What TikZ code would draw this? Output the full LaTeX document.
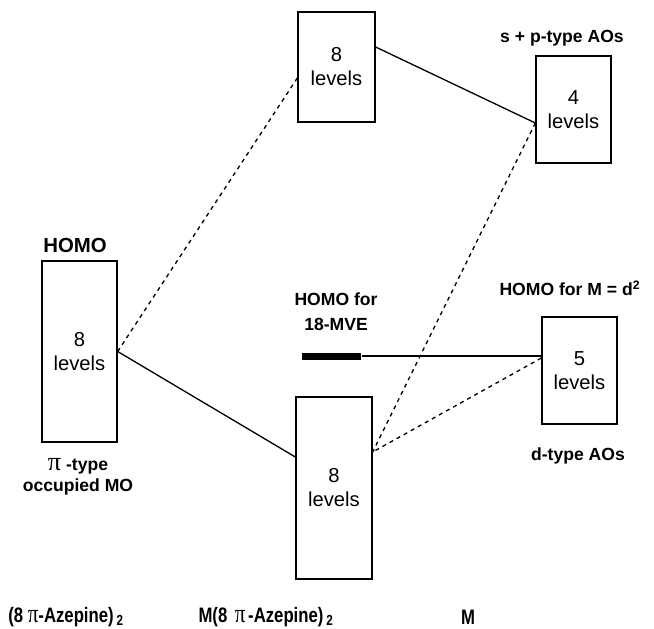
\documentclass[tikz,border=0pt]{standalone}
\usepackage{fontspec}
\setmainfont{Liberation Sans}
\newfontfamily\pifont{Liberation Serif}
\newcommand{\pisym}{{\pifont\normalfont\pifont\fontsize{15}{14}\selectfont π}}
\begin{document}
\begin{tikzpicture}[x=0.02cm, y=-0.02cm, line width=0.75pt,
  level/.style={draw, rectangle, minimum width=1.5cm, align=center, inner sep=0pt, font=\fontsize{11.5}{13.7}\selectfont},
  tag/.style={align=center, inner sep=0pt, font=\fontsize{10}{14}\selectfont\bfseries},
  bigtag/.style={inner sep=0pt, font=\fontsize{11.9}{14}\selectfont\bfseries},
  dots/.style={dash pattern=on 2.3pt off 2.3pt}]
\useasboundingbox (0,0) rectangle (654,629);
% level boxes
\node[level, minimum height=3.62cm] (homo) at (79.5,351.5) {8\\levels};
\node[level, minimum width=1.54cm, minimum height=2.2cm] (top) at (336.5,67) {8\\levels};
\node[level, minimum width=1.52cm, minimum height=3.64cm] (mid) at (334,488) {8\\levels};
\node[level, minimum height=2.14cm] (sp) at (573.5,109.5) {4\\levels};
\node[level, minimum height=2.14cm] (d) at (579.5,370.5) {5\\levels};
\node[fill=black, inner sep=0pt, minimum width=1.18cm, minimum height=0.14cm] (bar) at (331.5,356) {};
% labels
\node[font=\fontsize{11.6}{14}\selectfont\bfseries, inner sep=0pt] (homolabel) at (75,245.5) {HOMO};
\node[tag, font=\fontsize{10}{12}\selectfont\bfseries] (pitype) at (78,477) {\pisym\ -type\\occupied MO};
\node[tag] (splabel) at (562,38) {s + p-type AOs};
\node[tag] (dhomo) at (570,288) {HOMO for M = d$^{\mathbf{2}}$};
\node[tag] (mve) at (336,312) {HOMO for\\18-MVE};
\node[tag] (dlabel) at (578,456) {d-type AOs};
\node[bigtag] (ligand) at (66,617) {\scalebox{0.8}[1]{(8 \pisym-Azepine)\,$_{\mathbf{2}}$}};
\node[bigtag] (complex) at (266,617) {\scalebox{0.8}[1]{M(8 \,\pisym\,-Azepine)\,$_{\mathbf{2}}$}};
\node[bigtag] (metal) at (468,617) {\scalebox{0.8}[1]{M}};
% connectors
\draw (homo.east) -- ([yshift=0.62cm]mid.west);
\draw[dots] (homo.east) -- ([yshift=-0.22cm]top.west);
\draw ([yshift=0.4cm]top.east) -- ([yshift=-0.27cm]sp.west);
\draw[dots] ([yshift=-0.27cm]sp.west) -- ([yshift=0.72cm]mid.east);
\draw[dots] ([yshift=0.25cm]d.west) -- ([yshift=0.72cm]mid.east);
\draw (bar.east) -- (bar.east -| d.west);
\end{tikzpicture}
\end{document}
